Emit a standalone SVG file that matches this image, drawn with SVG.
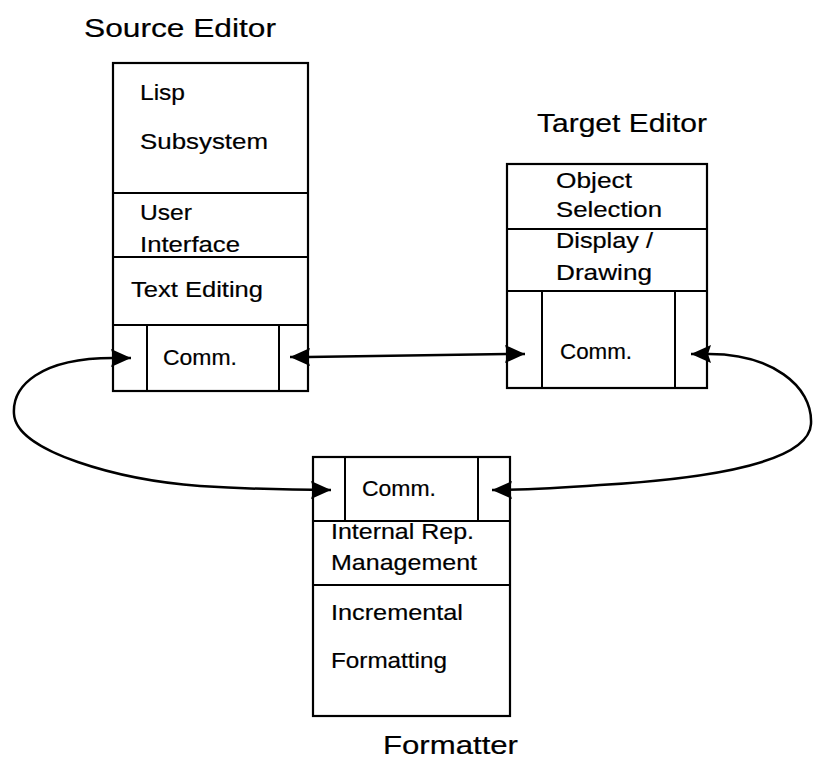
<svg xmlns="http://www.w3.org/2000/svg" width="815" height="774" viewBox="0 0 815 774">
  <style>
    .box { fill: none; stroke: #000; stroke-width: 2.2; }
    .sep { stroke: #000; stroke-width: 2; fill: none; }
    .lbl { font-family: "Liberation Sans", Arial, Helvetica, sans-serif; font-size: 22px; fill: #000; stroke: #000; stroke-width: 0.2; }
    .ttl { font-family: "Liberation Sans", Arial, Helvetica, sans-serif; font-size: 26px; fill: #000; stroke: #000; stroke-width: 0.2; }
    .wire { fill: none; stroke: #000; stroke-width: 2.5; marker-start: url(#head); marker-end: url(#head); }
  </style>
  <defs>
    <!-- solid triangular arrowhead, tip at the path end -->
    <marker id="head" viewBox="0 0 20 18" refX="20" refY="9" markerUnits="userSpaceOnUse" markerWidth="20" markerHeight="18" orient="auto-start-reverse">
      <path d="M0,0 L20,9 L0,18 L3,9 z" fill="#000"/>
    </marker>
  </defs>

  <!-- Source Editor -->
  <g id="source-editor">
    <text class="ttl" x="84" y="37" textLength="192" lengthAdjust="spacingAndGlyphs">Source Editor</text>
    <rect class="box" x="113" y="63" width="195" height="328"/>
    <line class="sep" x1="113" y1="193" x2="308" y2="193"/>
    <line class="sep" x1="113" y1="257" x2="308" y2="257"/>
    <line class="sep" x1="113" y1="325" x2="308" y2="325"/>
    <line class="sep" x1="147" y1="325" x2="147" y2="391"/>
    <line class="sep" x1="279" y1="325" x2="279" y2="391"/>
    <text class="lbl" x="140" y="100" textLength="45" lengthAdjust="spacingAndGlyphs">Lisp</text>
    <text class="lbl" x="140" y="149" textLength="128" lengthAdjust="spacingAndGlyphs">Subsystem</text>
    <text class="lbl" x="140" y="220" textLength="52" lengthAdjust="spacingAndGlyphs">User</text>
    <text class="lbl" x="140" y="252" textLength="100" lengthAdjust="spacingAndGlyphs">Interface</text>
    <text class="lbl" x="131" y="297" textLength="132" lengthAdjust="spacingAndGlyphs">Text Editing</text>
    <text class="lbl" x="163" y="365" textLength="74" lengthAdjust="spacingAndGlyphs">Comm.</text>
  </g>

  <!-- Target Editor -->
  <g id="target-editor">
    <text class="ttl" x="537" y="132" textLength="170" lengthAdjust="spacingAndGlyphs">Target  Editor</text>
    <rect class="box" x="507" y="164" width="200" height="224"/>
    <line class="sep" x1="507" y1="229" x2="707" y2="229"/>
    <line class="sep" x1="507" y1="291" x2="707" y2="291"/>
    <line class="sep" x1="542" y1="291" x2="542" y2="388"/>
    <line class="sep" x1="675" y1="291" x2="675" y2="388"/>
    <text class="lbl" x="556" y="188" textLength="76" lengthAdjust="spacingAndGlyphs">Object</text>
    <text class="lbl" x="556" y="217" textLength="106" lengthAdjust="spacingAndGlyphs">Selection</text>
    <text class="lbl" x="556" y="248" textLength="97" lengthAdjust="spacingAndGlyphs">Display /</text>
    <text class="lbl" x="556" y="280" textLength="96" lengthAdjust="spacingAndGlyphs">Drawing</text>
    <text class="lbl" x="560" y="359" textLength="72" lengthAdjust="spacingAndGlyphs">Comm.</text>
  </g>

  <!-- Formatter -->
  <g id="formatter">
    <rect class="box" x="313" y="457" width="197" height="259"/>
    <line class="sep" x1="313" y1="521" x2="510" y2="521"/>
    <line class="sep" x1="313" y1="585" x2="510" y2="585"/>
    <line class="sep" x1="345" y1="457" x2="345" y2="521"/>
    <line class="sep" x1="478" y1="457" x2="478" y2="521"/>
    <text class="lbl" x="362" y="496" textLength="74" lengthAdjust="spacingAndGlyphs">Comm.</text>
    <text class="lbl" x="331" y="539" textLength="143" lengthAdjust="spacingAndGlyphs">Internal Rep.</text>
    <text class="lbl" x="331" y="570" textLength="146" lengthAdjust="spacingAndGlyphs">Management</text>
    <text class="lbl" x="331" y="620" textLength="132" lengthAdjust="spacingAndGlyphs">Incremental</text>
    <text class="lbl" x="331" y="668" textLength="116" lengthAdjust="spacingAndGlyphs">Formatting</text>
    <text class="ttl" x="383" y="754" textLength="135" lengthAdjust="spacingAndGlyphs">Formatter</text>
  </g>

  <!-- Connectors between the Comm. cells -->
  <g id="connectors">
    <path class="wire" d="M290,357 L308,357 L507,354 L525,354"/>
    <path class="wire" d="M131,358 L113,358 C40,358 12,386 14,414 C16,452 120,480 200,486 C250,489 290,490 331,490"/>
    <path class="wire" d="M691,354 L709,354 C770,354 813,385 811,424 C809,460 720,478 600,485 C560,488 530,490 492,490"/>
  </g>
</svg>
